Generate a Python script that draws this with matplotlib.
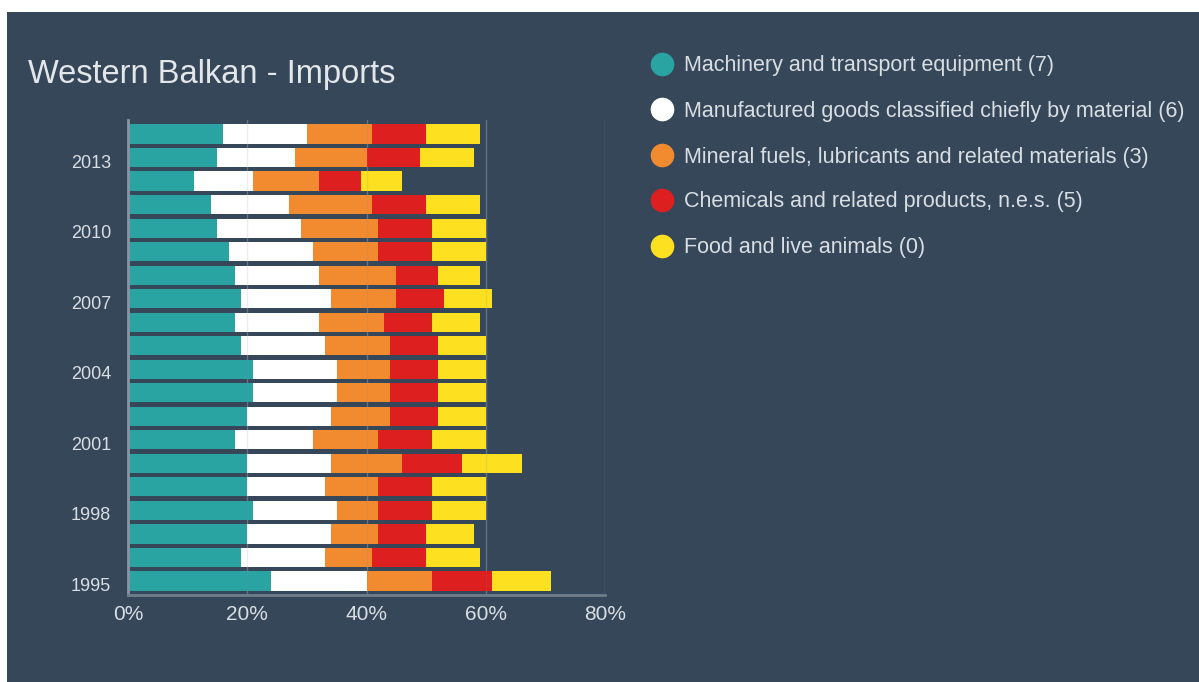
import matplotlib
matplotlib.use("Agg")
import matplotlib.pyplot as plt
from matplotlib.patches import Rectangle
from matplotlib.lines import Line2D
import matplotlib.transforms as mtransforms
import numpy as np

years = list(range(1995, 2015))
machinery = [24, 19, 20, 21, 20, 20, 18, 20, 21, 21, 19, 18, 19, 18, 17, 15, 14, 11, 15, 16]
manufactured = [16, 14, 14, 14, 13, 14, 13, 14, 14, 14, 14, 14, 15, 14, 14, 14, 13, 10, 13, 14]
mineral = [11, 8, 8, 7, 9, 12, 11, 10, 9, 9, 11, 11, 11, 13, 11, 13, 14, 11, 12, 11]
chemicals = [10, 9, 8, 9, 9, 10, 9, 8, 8, 8, 8, 8, 8, 7, 9, 9, 9, 7, 9, 9]
food = [10, 9, 8, 9, 9, 10, 9, 8, 8, 8, 8, 8, 8, 7, 9, 9, 9, 7, 9, 9]

series_names = [
    "Machinery and transport equipment (7)",
    "Manufactured goods classified chiefly by material (6)",
    "Mineral fuels, lubricants and related materials (3)",
    "Chemicals and related products, n.e.s. (5)",
    "Food and live animals (0)",
]
series = [machinery, manufactured, mineral, chemicals, food]
colors = ["#2aa3a3", "#ffffff", "#f28a30", "#dd1f1f", "#fde01f"]
ytick_years = [1995, 1998, 2001, 2004, 2007, 2010, 2013]
xticks = [0, 20, 40, 60, 80]

BG = "#36475a"
TXT = "#d9dee3"
FONT = "Liberation Sans"

W, H = 1199, 682
fig = plt.figure(figsize=(W / 100, H / 100), dpi=100)
fig.patch.set_facecolor("white")
fig.add_artist(Rectangle((7 / W, 0), 1 - 7 / W, 1 - 12 / H, transform=fig.transFigure,
                         facecolor=BG, edgecolor="none", zorder=-10))

ax = fig.add_axes([128 / W, 1 - 595 / H, (605 - 128) / W, (595 - 120) / H])
ax.set_facecolor(BG)
ax.patch.set_alpha(0)

y = np.arange(len(years))
left = np.zeros(len(years))
for vals, col in zip(series, colors):
    ax.barh(y, vals, left=left, height=0.82, color=col, edgecolor="none", zorder=2)
    left = left + np.array(vals)

ax.set_xlim(0, 80)
ax.set_ylim(-0.6, len(years) - 0.4)
ax.set_xticks(xticks)
ax.set_xticklabels([f"{v}%" for v in xticks], fontsize=15, color=TXT, family=FONT)
ax.set_yticks([years.index(v) for v in ytick_years])
ax.set_yticklabels([str(v) for v in ytick_years], fontsize=13, color=TXT, family=FONT)
ax.tick_params(axis="both", length=0)
ax.tick_params(axis="y", pad=12)
ax.tick_params(axis="x", pad=7)
offset = mtransforms.ScaledTranslation(0, -2.5 / 72, fig.dpi_scale_trans)
for lbl in ax.get_yticklabels():
    lbl.set_transform(lbl.get_transform() + offset)

for gx in xticks[1:]:
    ax.axvline(gx, color="#7d8a98", lw=1.0, alpha=0.6, zorder=1)
    ax.axvline(gx, color="#7d8a98", lw=1.0, alpha=0.15, zorder=3)

for s in ["top", "right"]:
    ax.spines[s].set_visible(False)
ax.spines["left"].set_color("#8794a2")
ax.spines["left"].set_linewidth(2)
ax.spines["bottom"].set_color("#6f7d8c")
ax.spines["bottom"].set_linewidth(2)

fig.text(28 / W, 1 - 74 / H, "Western Balkan - Imports", fontsize=23.5, color="#e3e7ea",
         family=FONT, va="center", ha="left")

legend_y = [64, 109, 155, 200, 246]
for name, col, ly in zip(series_names, colors, legend_y):
    fig.add_artist(Line2D([662 / W], [1 - ly / H], transform=fig.transFigure, marker="o",
                          markersize=16, color=col, markeredgecolor=col, linestyle="none"))
    fig.text(684 / W, 1 - (ly + 2) / H, name, fontsize=15.5, color=TXT, family=FONT,
             va="center", ha="left")

fig.savefig("out.png", dpi=100, facecolor=fig.get_facecolor())
